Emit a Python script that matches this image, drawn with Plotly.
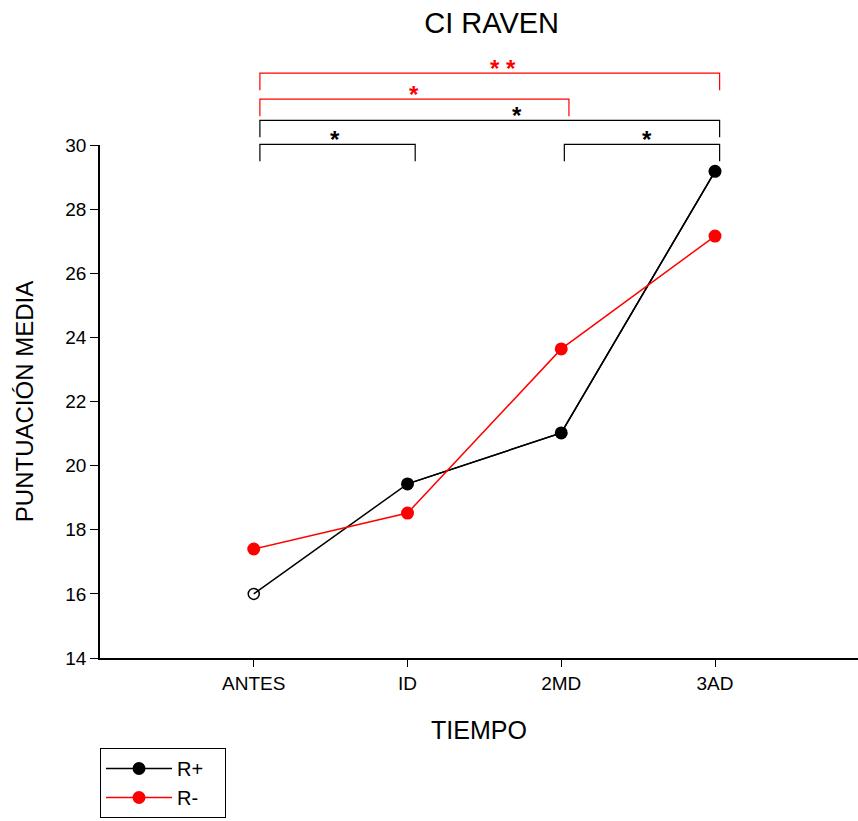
import plotly.graph_objects as go

# Mean Raven scores at each time point
tiempos = ["ANTES", "ID", "2MD", "3AD"]
r_pos = [16.0, 19.43, 21.02, 29.18]
r_neg = [17.40, 18.52, 23.64, 27.16]
y_ticks = [14, 16, 18, 20, 22, 24, 26, 28, 30]

# Significance brackets: start, end (category index), level (score units),
# label, label position, colour
br_start = [0.04, 0.04, 0.04, 0.04, 2.02]
br_end = [3.03, 2.05, 3.03, 1.05, 3.03]
br_level = [32.24, 31.43, 30.77, 30.02, 30.02]
br_label = ["* *", "*", "*", "*", "*"]
br_label_x = [1.62, 1.04, 1.71, 0.53, 2.56]
br_color = ["#ff0000", "#ff0000", "#000000", "#000000", "#000000"]

Y_RANGE = [14, 30]
X_RANGE = [-1.0, 3.93]
DROP = 0.53  # bracket leg length in score units
FONT = "Liberation Sans, Arial, sans-serif"
PAD = "\u00a0\u00a0\u00a0"  # extra room on the right of legend labels


def to_paper(v):
    return (v - Y_RANGE[0]) / (Y_RANGE[1] - Y_RANGE[0])


fig = go.Figure()

# R+ : full line, then filled markers from ID onward, open marker at ANTES
fig.add_trace(go.Scatter(
    x=tiempos, y=r_pos, mode="lines",
    line=dict(color="black", width=1.5), showlegend=False, hoverinfo="skip"))
fig.add_trace(go.Scatter(
    x=tiempos[1:], y=r_pos[1:], mode="lines+markers", name="R+" + PAD,
    line=dict(color="black", width=1.5),
    marker=dict(color="black", size=13, symbol="circle")))
fig.add_trace(go.Scatter(
    x=tiempos[:1], y=r_pos[:1], mode="markers", showlegend=False,
    marker=dict(color="black", size=11, symbol="circle-open", line=dict(width=1.5))))

# R-
fig.add_trace(go.Scatter(
    x=tiempos, y=r_neg, mode="lines+markers", name="R-" + PAD,
    line=dict(color="#ff0000", width=1.5),
    marker=dict(color="#ff0000", size=13, symbol="circle")))

shapes = []
annotations = []
for x0, x1, lvl, lab, lx, col in zip(br_start, br_end, br_level, br_label,
                                      br_label_x, br_color):
    ytop = to_paper(lvl)
    ybot = to_paper(lvl - DROP)
    shapes.append(dict(
        type="path", xref="x", yref="paper",
        path=f"M {x0},{ybot} L {x0},{ytop} L {x1},{ytop} L {x1},{ybot}",
        line=dict(color=col, width=1.2)))
    annotations.append(dict(
        x=lx, y=ytop, xref="x", yref="paper", text=f"<b>{lab}</b>",
        showarrow=False, yanchor="middle", yshift=5,
        font=dict(family=FONT, size=24, color=col)))

fig.update_layout(
    width=858, height=821,
    margin=dict(l=100, r=0, t=145, b=163),
    paper_bgcolor="white", plot_bgcolor="white",
    font=dict(family=FONT, color="black"),
    title=dict(text="CI RAVEN", x=0.573, xanchor="center", y=1 - 23 / 821,
               yanchor="middle", yref="container",
               font=dict(family=FONT, size=29, color="black")),
    shapes=shapes,
    annotations=annotations,
    showlegend=True,
    legend=dict(x=0, xanchor="left", y=-0.1754, yanchor="top",
                bordercolor="black", borderwidth=1, bgcolor="white",
                font=dict(family=FONT, size=20, color="black"),
                itemwidth=66),
)

fig.update_xaxes(
    type="category", range=X_RANGE, showgrid=False, zeroline=False,
    showline=True, linecolor="black", linewidth=1.5,
    ticks="outside", ticklen=7, tickcolor="black", tickwidth=1,
    tickfont=dict(family=FONT, size=19),
    title=dict(text="TIEMPO", font=dict(family=FONT, size=25), standoff=29))
fig.update_yaxes(
    range=Y_RANGE, tickvals=y_ticks, showgrid=False, zeroline=False,
    showline=True, linecolor="black", linewidth=1.5,
    ticks="outside", ticklen=8, tickcolor="black", tickwidth=1,
    tickfont=dict(family=FONT, size=19),
    title=dict(text="PUNTUACIÓN MEDIA", font=dict(family=FONT, size=24),
               standoff=25))

fig.write_html("out.html")
